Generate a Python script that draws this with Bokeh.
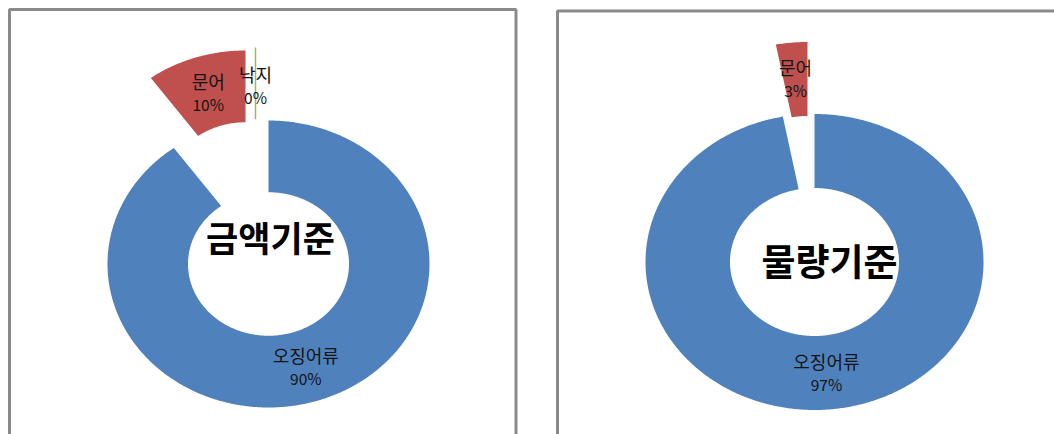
import numpy as np
from bokeh.plotting import figure
from bokeh.models import Range1d
from bokeh.embed import file_html
from bokeh.resources import INLINE
from bokeh.core.properties import value

# ---- data ----
amount_categories = ["오징어류", "문어", "낙지"]
amount_share = [90, 10, 0]
volume_categories = ["오징어류", "문어"]
volume_share = [97, 3]
chart_titles = ["금액기준", "물량기준"]

slice_colors = {"오징어류": "#4F81BD", "문어": "#C0504D", "낙지": "#9BBB59"}
FONT = "Noto Sans CJK KR"
TEXT_COLOR = "#141414"

p = figure(width=1054, height=434, x_range=Range1d(0, 1054), y_range=Range1d(434, 0),
           output_backend="svg", toolbar_location=None, min_border=0)
p.axis.visible = False
p.grid.visible = False
p.outline_line_color = None
p.background_fill_color = "white"
p.border_fill_color = "white"

# panel frames (clipped by window like the reference)
p.line([9, 9, 515.5, 515.5], [440, 9, 9, 440], line_color="#8a8a8a", line_width=3)
p.line([557, 557, 1060], [440, 10.5, 10.5], line_color="#8a8a8a", line_width=3)


def donut(cats, vals, cx, cy, rx, ry, hole, explode, nudge, title, title_xy, title_size):
    total = float(sum(vals))
    start = 0.0
    for cat, v in zip(cats, vals):
        span = 360.0 * v / total
        a0, a1 = start, start + span
        dx, dy = explode.get(cat, (0, 0))
        color = slice_colors[cat]
        if span > 0:
            t = np.radians(np.linspace(a0, a1, max(int(span * 2), 3)))
            xo = cx + dx + rx * np.sin(t)
            yo = cy + dy - ry * np.cos(t)
            tr = t[::-1]
            xi = cx + dx + rx * hole * np.sin(tr)
            yi = cy + dy - ry * hole * np.cos(tr)
            p.patch(np.concatenate([xo, xi]), np.concatenate([yo, yi]),
                    fill_color=color, line_color=None)
        else:
            t = np.radians(a0)
            p.line([cx + dx + rx * hole * np.sin(t), cx + dx + rx * np.sin(t)],
                   [cy + dy - ry * hole * np.cos(t), cy + dy - ry * np.cos(t)],
                   line_color=color, line_width=1.5)
        mid = np.radians((a0 + a1) / 2)
        f = (1 + hole) / 2
        lx = cx + dx + rx * f * np.sin(mid)
        ly = cy + dy - ry * f * np.cos(mid) + nudge.get(cat, 0)
        p.text(x=[lx], y=[ly - 12], text=[cat], text_font=value(FONT),
               text_font_size="18px", text_align="center", text_baseline="middle",
               text_color=TEXT_COLOR)
        p.text(x=[lx], y=[ly + 11], text=[f"{v}%"], text_font=value(FONT),
               text_font_size="15.5px", text_align="center", text_baseline="middle",
               text_color=TEXT_COLOR)
        start = a1
    p.text(x=[title_xy[0]], y=[title_xy[1]], text=[title], text_font=value(FONT),
           text_font_size=title_size, text_font_style="bold", text_align="center",
           text_baseline="middle", text_color="#000000")


donut(amount_categories, amount_share, 268, 263.5, 161, 143.5, 0.5,
      {"문어": (-23, -70), "낙지": (-13, -73)},
      {"오징어류": 1, "문어": 1, "낙지": 3},
      chart_titles[0], (270, 236), "35px")

donut(volume_categories, volume_share, 814, 261.5, 169, 148, 0.5,
      {"문어": (-7, -72)},
      {"오징어류": 0, "문어": 0},
      chart_titles[1], (829, 259), "37px")

open("out.html", "w").write(file_html(p, INLINE))
